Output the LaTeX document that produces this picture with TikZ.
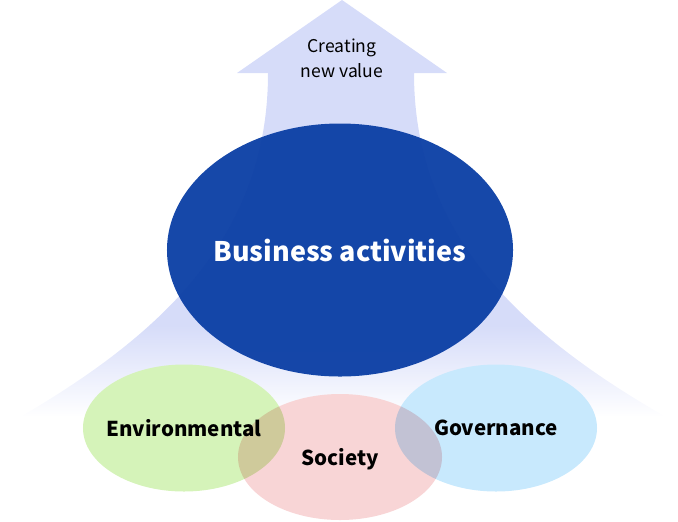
\documentclass[tikz,border=0pt]{standalone}
\usepackage{fontspec}
\setmainfont{Noto Sans CJK JP}
\usepackage{tikz}
\usetikzlibrary{shapes.geometric}
\definecolor{lav}{HTML}{D6DCF9}
\definecolor{deep}{HTML}{0A3EA4}
\definecolor{envgreen}{HTML}{D5F3B9}
\definecolor{socpink}{HTML}{F8D5D6}
\definecolor{govblue}{HTML}{C8E9FD}
\pgfdeclareverticalshading{arrowfade}{100bp}{color(0bp)=(white); color(25bp)=(white); color(36bp)=(lav); color(100bp)=(lav)}
\tikzset{
  pillar/.style={ellipse,inner sep=0pt,font=\bfseries\fontsize{17.5}{20}\selectfont},
  core/.style={ellipse,inner sep=0pt,fill=deep,fill opacity=.95,
    minimum width=10.38cm,minimum height=7.59cm},
  corelabel/.style={text=white,font=\bfseries\fontsize{23}{26}\selectfont},
}
\begin{document}
\begin{tikzpicture}[x=0.03cm,y=-0.03cm]
\useasboundingbox (0,0) rectangle (678,521);
% upward arrow, fading out at its foot
\shade[shading=arrowfade] (342,0) -- (447,73) -- (414,73)
  .. controls (414,230) and (514,330) .. (666,417) -- (20,417)
  .. controls (170,330) and (268,230) .. (268,73) -- (237,73) -- cycle;
\node[align=center,font=\fontsize{15}{21}\selectfont] (value) at (342,58) {Creating\\new value};
% business activities
\node[core] (biz) at (340,250) {};
\node[corelabel] at (biz.center) {Business activities};
% ESG circles
\begin{scope}[blend group=multiply]
\node[pillar,fill=envgreen,minimum width=6.06cm,minimum height=3.81cm] (env) at (184,428) {};
\node[pillar,fill=socpink,minimum width=6.12cm,minimum height=3.78cm] (soc) at (340,457) {};
\node[pillar,fill=govblue,minimum width=6.06cm,minimum height=3.81cm] (gov) at (496,428) {};
\end{scope}
\node[pillar] at (env.center) {Environmental};
\node[pillar] at ([yshift=-2pt]soc.center) {Society};
\node[pillar] at (gov.center) {Governance};
\end{tikzpicture}
\end{document}
